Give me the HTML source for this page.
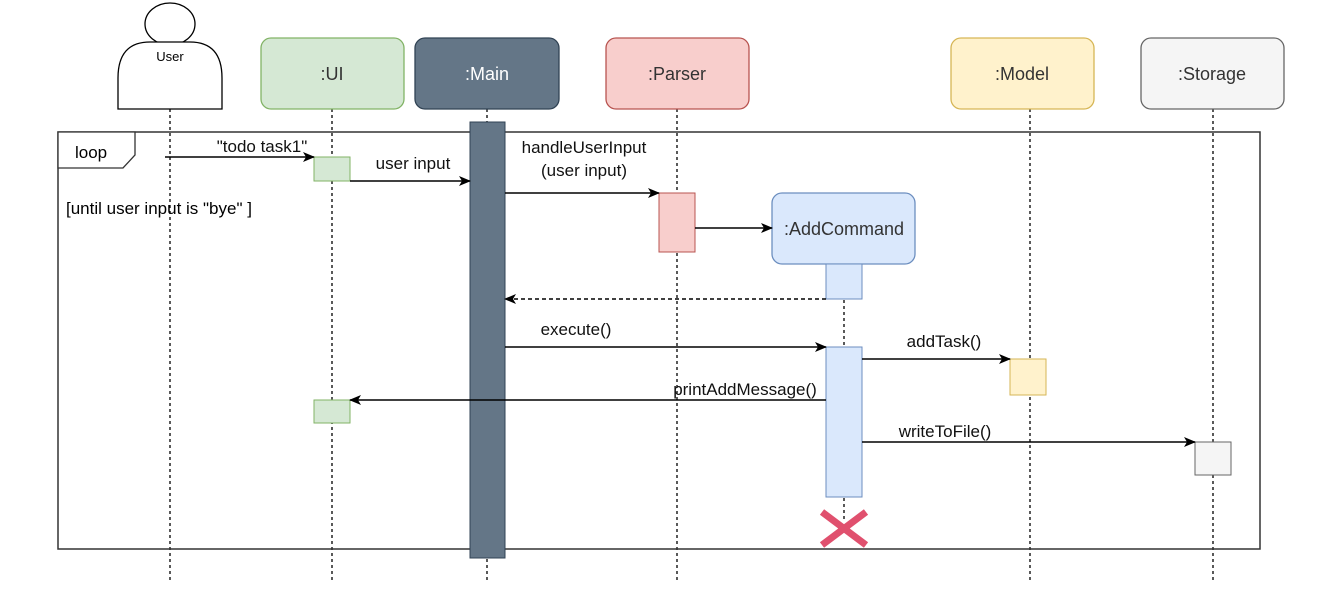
<!DOCTYPE html>
<html><head><meta charset="utf-8"><style>html,body{margin:0;padding:0;background:#fff;}svg{display:block}</style></head>
<body>
<svg width="1330" height="614" viewBox="0 0 1330 614" xmlns="http://www.w3.org/2000/svg" font-family="Liberation Sans, Arial, sans-serif">
<defs><marker id="a" markerWidth="12" markerHeight="10" refX="11" refY="5" orient="auto" markerUnits="userSpaceOnUse"><path d="M0,0 L12,5 L0,10 L3,5 z" fill="#000"/></marker></defs>
<g stroke="#000" stroke-width="1.3" stroke-dasharray="3,3">
<line x1="170" y1="109" x2="170" y2="582"/><line x1="332" y1="109" x2="332" y2="582"/>
<line x1="487" y1="109" x2="487" y2="582"/><line x1="677" y1="109" x2="677" y2="582"/>
<line x1="844" y1="264" x2="844" y2="520"/><line x1="1030" y1="109" x2="1030" y2="582"/>
<line x1="1213" y1="109" x2="1213" y2="582"/></g>
<rect x="58" y="132" width="1202" height="417" fill="none" stroke="#333" stroke-width="1.5"/>
<path d="M58,132 H135 V155 L123,168 H58 Z" fill="#fff" stroke="#333" stroke-width="1.3"/>
<text x="75" y="158" font-size="17">loop</text>
<text x="66" y="214" font-size="17">[until user input is "bye" ]</text>
<ellipse cx="170" cy="24" rx="25" ry="21" fill="#fff" stroke="#000" stroke-width="1.3"/>
<path d="M118,109 V78 Q118,42 150,42 H190 Q222,42 222,78 V109 Z" fill="#fff" stroke="#000" stroke-width="1.3"/>
<text x="170" y="61" font-size="13" text-anchor="middle">User</text>
<g font-size="18" text-anchor="middle">
<rect x="261" y="38" width="143" height="71" rx="10" fill="#d5e8d4" stroke="#82b366" stroke-width="1.3"/><text x="332" y="80" fill="#333">:UI</text>
<rect x="415" y="38" width="144" height="71" rx="10" fill="#647687" stroke="#314354" stroke-width="1.3"/><text x="487" y="80" fill="#fff">:Main</text>
<rect x="606" y="38" width="143" height="71" rx="10" fill="#f8cecc" stroke="#b85450" stroke-width="1.3"/><text x="677" y="80" fill="#333">:Parser</text>
<rect x="951" y="38" width="143" height="71" rx="10" fill="#fff2cc" stroke="#d6b656" stroke-width="1.3"/><text x="1022" y="80" fill="#333">:Model</text>
<rect x="1141" y="38" width="143" height="71" rx="10" fill="#f5f5f5" stroke="#666" stroke-width="1.3"/><text x="1212" y="80" fill="#333">:Storage</text>
<rect x="772" y="193" width="143" height="71" rx="10" fill="#dae8fc" stroke="#6c8ebf" stroke-width="1.3"/><text x="844" y="235" fill="#333">:AddCommand</text>
</g>
<rect x="470" y="122" width="35" height="436" fill="#647687" stroke="#314354"/>
<rect x="314" y="157" width="36" height="24" fill="#d5e8d4" stroke="#82b366"/>
<rect x="314" y="400" width="36" height="23" fill="#d5e8d4" stroke="#82b366"/>
<rect x="659" y="193" width="36" height="59" fill="#f8cecc" stroke="#b85450"/>
<rect x="826" y="264" width="36" height="35" fill="#dae8fc" stroke="#6c8ebf"/>
<rect x="826" y="347" width="36" height="150" fill="#dae8fc" stroke="#6c8ebf"/>
<rect x="1010" y="359" width="36" height="36" fill="#fff2cc" stroke="#d6b656"/>
<rect x="1195" y="442" width="36" height="33" fill="#f5f5f5" stroke="#666"/>
<g stroke="#e0506e" stroke-width="7"><line x1="822" y1="512" x2="866" y2="545"/><line x1="866" y1="512" x2="822" y2="545"/></g>
<g stroke="#000" stroke-width="1.4" fill="none">
<line x1="165" y1="157" x2="314" y2="157" marker-end="url(#a)"/>
<line x1="350" y1="181" x2="470" y2="181" marker-end="url(#a)"/>
<line x1="505" y1="193" x2="659" y2="193" marker-end="url(#a)"/>
<line x1="695" y1="228" x2="772" y2="228" marker-end="url(#a)"/>
<line x1="826" y1="299" x2="505" y2="299" stroke-dasharray="4,3" marker-end="url(#a)"/>
<line x1="505" y1="347" x2="826" y2="347" marker-end="url(#a)"/>
<line x1="862" y1="359" x2="1010" y2="359" marker-end="url(#a)"/>
<line x1="826" y1="400" x2="350" y2="400" marker-end="url(#a)"/>
<line x1="862" y1="442" x2="1195" y2="442" marker-end="url(#a)"/>
</g>
<g font-size="17" text-anchor="middle" fill="#111">
<text x="262" y="152">"todo task1"</text>
<text x="413" y="169">user input</text>
<text x="584" y="153">handleUserInput</text>
<text x="584" y="176">(user input)</text>
<text x="576" y="335">execute()</text>
<text x="944" y="347">addTask()</text>
<text x="745" y="395">printAddMessage()</text>
<text x="945" y="437">writeToFile()</text>
</g>
</svg>
</body></html>
